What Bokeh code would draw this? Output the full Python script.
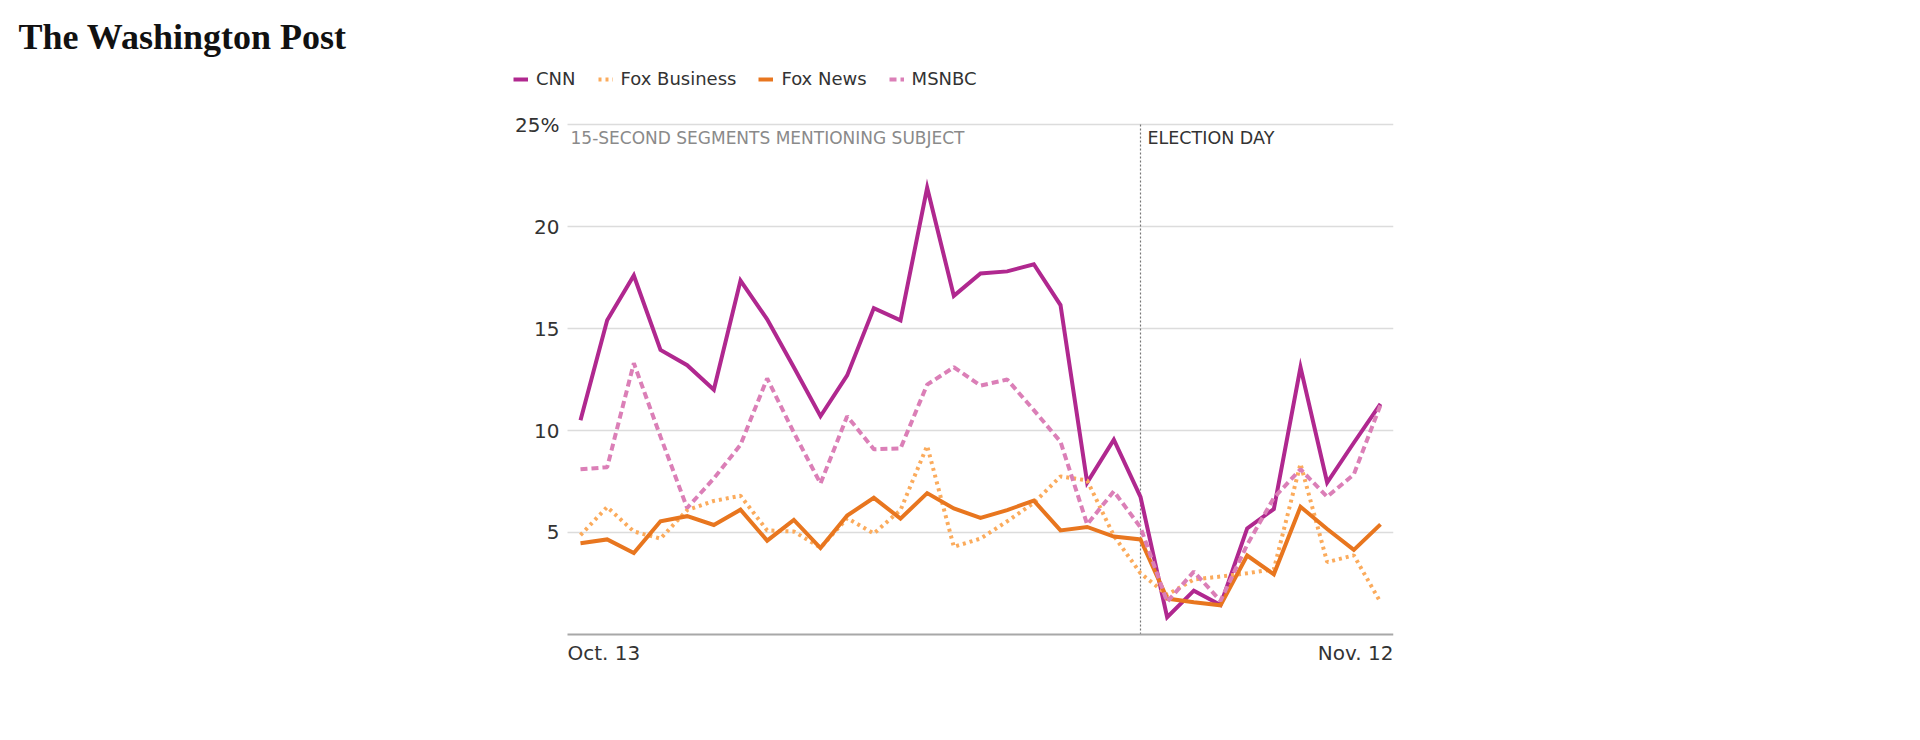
from bokeh.plotting import figure
from bokeh.models import (Range1d, FixedTicker, Label, Legend, LegendItem, Grid,
                          LinearAxis)
from bokeh.embed import file_html
from bokeh.resources import INLINE

# ---- data (share of 15-second segments mentioning subject, %) ----
day_index = list(range(31))            # Oct. 13 ... Nov. 12
date_labels = ["Oct. 13", "Nov. 12"]
date_label_index = [0, 30]
election_day_index = 21                # Nov. 3

cnn = [10.5, 15.4, 17.6, 13.95, 13.2, 12.0, 17.35, 15.45, 13.1, 10.7, 12.7,
       16.0, 15.4, 21.9, 16.6, 17.7, 17.8, 18.15, 16.15, 7.45, 9.55, 6.75,
       0.85, 2.15, 1.45, 5.2, 6.15, 13.1, 7.45, 9.4, 11.3]
fox_business = [4.87, 6.25, 5.05, 4.7, 6.1, 6.55, 6.8, 5.1, 5.05, 4.26, 5.7,
                4.95, 6.1, 9.25, 4.3, 4.7, 5.55, 6.45, 7.75, 7.55, 4.84, 3.0,
                1.95, 2.7, 2.84, 3.0, 3.2, 8.37, 3.55, 3.88, 1.58]
fox_news = [4.47, 4.66, 3.99, 5.55, 5.8, 5.37, 6.12, 4.6, 5.62, 4.24, 5.83,
            6.7, 5.68, 6.93, 6.18, 5.72, 6.1, 6.56, 5.1, 5.27, 4.8, 4.66,
            1.76, 1.58, 1.43, 3.87, 2.95, 6.26, 5.17, 4.15, 5.4]
msnbc = [8.1, 8.2, 13.3, 9.7, 6.2, 7.65, 9.3, 12.55, 9.9, 7.4, 10.7,
         9.08, 9.12, 12.25, 13.1, 12.2, 12.5, 11.0, 9.45, 5.4, 7.02, 5.25,
         1.6, 3.08, 1.65, 4.4, 6.7, 8.1, 6.75, 7.85, 11.25]

series_names = ["CNN", "Fox Business", "Fox News", "MSNBC"]
y_ticks = [5, 10, 15, 20, 25]

FONT = "DejaVu Sans"
# chart extent in day units (half a day beyond first / last day)
X_LO, X_HI = -0.4875, 30.4875

p = figure(output_backend="svg", toolbar_location=None,
           frame_width=880, frame_height=608,
           min_border_left=513, min_border_right=20,
           min_border_top=62, min_border_bottom=20,
           x_range=Range1d(-2.5125, X_HI),
           y_range=Range1d(-1.765, 28.04),
           x_axis_location=None, y_axis_location=None)
p.outline_line_color = None
p.background_fill_color = "white"
p.border_fill_color = "white"
# drop the default full-width grids
p.center = [r for r in p.center if not isinstance(r, Grid)]

# masthead
p.title.text = "The Washington Post"
p.title.text_font = "Liberation Serif"
p.title.text_font_style = "bold"
p.title.text_font_size = "36px"
p.title.text_color = "#111111"
p.title.align = "left"
p.title.offset = -495
p.title.standoff = 11

# y axis, pinned to the left edge of the chart area
yax = LinearAxis(fixed_location=X_LO, ticker=FixedTicker(ticks=y_ticks),
                 major_label_overrides={25: "25%"},
                 axis_line_color=None, major_tick_line_color=None,
                 minor_tick_line_color=None, major_tick_out=0,
                 major_label_standoff=8, major_label_text_font=FONT,
                 major_label_text_font_size="20px",
                 major_label_text_color="#333333")
p.add_layout(yax, "left")

# x baseline at zero
xax = LinearAxis(fixed_location=0, bounds=(X_LO, X_HI),
                 ticker=FixedTicker(ticks=[]), axis_line_color="#a8a8a8",
                 axis_line_width=2, major_tick_line_color=None,
                 minor_tick_line_color=None)
p.add_layout(xax, "below")

# horizontal grid lines over the chart area only
if "cross_bounds" in Grid.properties():
    p.add_layout(Grid(dimension=1, ticker=FixedTicker(ticks=y_ticks),
                      cross_bounds=(X_LO, X_HI), grid_line_color="#dcdcdc",
                      grid_line_width=1.5))
else:
    p.segment(x0=[X_LO] * len(y_ticks), y0=y_ticks, x1=[X_HI] * len(y_ticks),
              y1=y_ticks, line_color="#dcdcdc", line_width=1.5)

# election day marker
p.segment(x0=[election_day_index], y0=[0], x1=[election_day_index], y1=[y_ticks[-1]],
          line_color="#777777", line_width=1.2, line_dash="2 2")

# series
r_cnn = p.line(day_index, cnn, line_color="#b0288f", line_width=4,
               line_join="miter")
r_fb = p.line(day_index, fox_business, line_color="#fbab5c", line_width=4,
              line_dash="3 4")
r_fn = p.line(day_index, fox_news, line_color="#e8761f", line_width=4,
              line_join="miter")
r_ms = p.line(day_index, msnbc, line_color="#db7fb7", line_width=4,
              line_dash="7 4")

legend = Legend(items=[LegendItem(label=n, renderers=[r])
                       for n, r in zip(series_names, [r_cnn, r_fb, r_fn, r_ms])],
                orientation="horizontal", location=(0, 581),
                padding=0, margin=0, spacing=22, glyph_width=15,
                glyph_height=20, label_standoff=8,
                border_line_color=None, background_fill_alpha=0,
                label_text_font=FONT, label_text_font_size="18px",
                label_text_color="#333333")
p.add_layout(legend, "center")

# annotations inside the chart
p.add_layout(Label(x=X_LO, y=y_ticks[-1], x_offset=3, y_offset=-13,
                   text="15-SECOND SEGMENTS MENTIONING SUBJECT",
                   text_font=FONT, text_font_size="17px",
                   text_color="#8a8a8a", text_baseline="alphabetic"))
p.add_layout(Label(x=election_day_index, y=y_ticks[-1],
                   x_offset=7, y_offset=-13, text="ELECTION DAY",
                   text_font=FONT, text_font_size="17.5px",
                   text_color="#333333", text_baseline="alphabetic"))

# date labels under the baseline
for lab, idx in zip(date_labels, date_label_index):
    left = idx == date_label_index[0]
    p.add_layout(Label(x=X_LO if left else X_HI, y=0, y_offset=-19,
                       text=lab, text_align="left" if left else "right",
                       text_baseline="alphabetic", text_font=FONT,
                       text_font_size="20px", text_color="#333333"))

open("out.html", "w").write(file_html(p, INLINE))
